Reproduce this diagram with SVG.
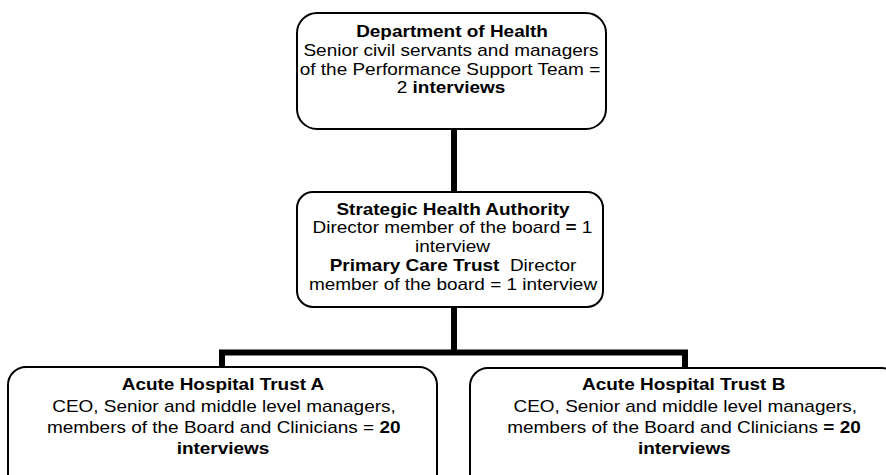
<svg xmlns="http://www.w3.org/2000/svg" width="886" height="475" viewBox="0 0 886 475">
<style>
.box{fill:#fff;stroke:#000;stroke-width:2}
.conn{fill:none;stroke:#000;stroke-width:6;stroke-linecap:butt;stroke-linejoin:miter}
text{font-family:"Liberation Sans",Arial,sans-serif;font-size:16.4px;fill:#000;text-anchor:middle}
.b{font-weight:bold}
</style>
<rect width="886" height="475" fill="#fff"/>
<g id="connectors">
<path class="conn" d="M454,129 V194"/>
<path class="conn" d="M454,307 V352.5 M222,352.5 H685 M222,349.5 V367 M685,349.5 V368"/>
</g>
<g id="dept-of-health">
<rect class="box" x="297" y="13" width="309" height="116" rx="20"/>
<text class="b" transform="translate(452,36.7) scale(1.157,1)">Department of Health</text>
<text transform="translate(451,55.7) scale(1.157,1)">Senior civil servants and managers</text>
<text transform="translate(450,74.5) scale(1.157,1)">of the Performance Support Team =</text>
<text transform="translate(451,93.3) scale(1.157,1)">2 <tspan class="b">interviews</tspan></text>
</g>
<g id="sha-pct">
<rect class="box" x="297" y="192" width="306" height="115" rx="16"/>
<text class="b" transform="translate(453,215) scale(1.157,1)">Strategic Health Authority</text>
<text transform="translate(452.5,233.3) scale(1.157,1)">Director member of the board <tspan class="b">=</tspan> 1</text>
<text transform="translate(452.5,251.7) scale(1.157,1)">interview</text>
<text transform="translate(453,270.7) scale(1.157,1)"><tspan class="b">Primary Care Trust</tspan>&#160; Director</text>
<text transform="translate(453,290) scale(1.157,1)">member of the board = 1 interview</text>
</g>
<g id="acute-a">
<rect class="box" x="8" y="367" width="429" height="130" rx="18"/>
<text class="b" transform="translate(223,390) scale(1.157,1)">Acute Hospital Trust A</text>
<text transform="translate(224,411.7) scale(1.157,1)">CEO, Senior and middle level managers,</text>
<text transform="translate(223.7,432.7) scale(1.157,1)">members of the Board and Clinicians = <tspan class="b">20</tspan></text>
<text class="b" transform="translate(223,454) scale(1.157,1)">interviews</text>
</g>
<g id="acute-b">
<rect class="box" x="470" y="368" width="430" height="130" rx="18"/>
<text class="b" transform="translate(683.7,390) scale(1.157,1)">Acute Hospital Trust B</text>
<text transform="translate(685.3,411.7) scale(1.157,1)">CEO, Senior and middle level managers,</text>
<text transform="translate(684,432.7) scale(1.157,1)">members of the Board and Clinicians <tspan class="b">= 20</tspan></text>
<text class="b" transform="translate(684.3,454) scale(1.157,1)">interviews</text>
</g>
</svg>
